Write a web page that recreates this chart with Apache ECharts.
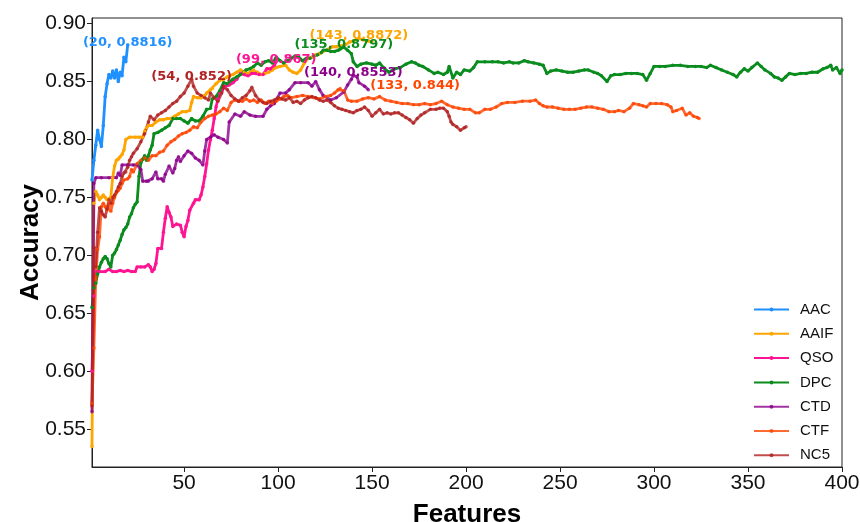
<!DOCTYPE html>
<html>
<head>
<meta charset="utf-8">
<script src="https://cdn.jsdelivr.net/npm/echarts@6/dist/echarts.min.js"></script>
<style>
  html, body { margin: 0; padding: 0; background: #fff; }
  #chart { width: 860px; height: 522px; }
</style>
</head>
<body>
<div id="chart"></div>
<script>
// 数据: [特征数, 准确率]
const aac = [[1,0.765],[2,0.782],[3,0.795],[4,0.808],[5,0.800],[6,0.794],[7,0.812],[8,0.837],[9,0.848],[10,0.856],[11,0.853],[12,0.859],[13,0.853],[14,0.860],[15,0.850],[16,0.858],[17,0.855],[18,0.871],[19,0.867],[20,0.8816]]

const aaif = [[1,0.535],[2,0.745],[3,0.755],[4,0.752],[5,0.748],[6,0.750],[7,0.752],[8,0.750],[9,0.748],[10,0.748],[11,0.750],[12,0.767],[13,0.777],[14,0.782],[15,0.783],[16,0.785],[17,0.787],[18,0.791],[19,0.800],[21,0.802],[24,0.802],[26,0.802],[28,0.802],[29,0.807],[30,0.810],[31,0.812],[33,0.812],[35,0.815],[37,0.817],[39,0.817],[41,0.818],[43,0.818],[45,0.820],[47,0.822],[49,0.824],[51,0.824],[53,0.825],[54,0.832],[55,0.837],[57,0.836],[59,0.836],[61,0.838],[62,0.840],[64,0.843],[65,0.844],[67,0.848],[69,0.851],[71,0.852],[73,0.854],[76,0.856],[78,0.858],[80,0.860],[82,0.858],[84,0.857],[86,0.859],[87,0.860],[89,0.858],[91,0.856],[93,0.857],[95,0.858],[97,0.860],[99,0.862],[101,0.863],[104,0.864],[106,0.860],[108,0.858],[110,0.857],[112,0.860],[114,0.866],[116,0.870],[118,0.871],[120,0.873],[122,0.874],[124,0.876],[127,0.878],[129,0.880],[131,0.880],[134,0.881],[136,0.882],[138,0.884],[140,0.885],[143,0.8872],[145,0.886],[148,0.885],[150,0.884]]

const qso = [[1,0.600],[2,0.665],[3,0.686],[5,0.686],[8,0.686],[10,0.688],[12,0.686],[14,0.686],[16,0.687],[18,0.686],[20,0.687],[22,0.686],[24,0.686],[25,0.690],[27,0.690],[29,0.690],[31,0.692],[32,0.690],[33,0.686],[34,0.688],[35,0.693],[36,0.706],[38,0.706],[39,0.720],[40,0.732],[41,0.742],[42,0.737],[43,0.733],[44,0.725],[46,0.727],[48,0.726],[49,0.720],[50,0.716],[51,0.725],[52,0.730],[53,0.739],[55,0.745],[56,0.748],[58,0.748],[59,0.752],[60,0.759],[61,0.768],[62,0.779],[63,0.791],[64,0.800],[65,0.808],[66,0.818],[67,0.828],[68,0.835],[69,0.840],[70,0.842],[72,0.846],[74,0.847],[76,0.849],[78,0.852],[80,0.857],[82,0.856],[84,0.855],[86,0.857],[88,0.857],[90,0.856],[92,0.856],[94,0.861],[96,0.861],[98,0.864],[99,0.867]]

const dpc = [[1,0.655],[2,0.672],[3,0.676],[4,0.684],[5,0.690],[6,0.694],[7,0.697],[8,0.699],[9,0.697],[10,0.693],[11,0.690],[12,0.700],[13,0.702],[14,0.705],[15,0.709],[16,0.713],[17,0.718],[18,0.722],[19,0.724],[20,0.727],[21,0.733],[22,0.736],[23,0.741],[24,0.744],[25,0.746],[26,0.768],[27,0.780],[28,0.783],[29,0.786],[30,0.782],[31,0.786],[32,0.791],[33,0.795],[34,0.805],[36,0.806],[38,0.808],[40,0.810],[42,0.812],[44,0.818],[46,0.818],[48,0.818],[50,0.816],[52,0.814],[54,0.818],[56,0.816],[58,0.816],[60,0.820],[62,0.826],[64,0.827],[65,0.835],[67,0.837],[69,0.842],[71,0.849],[73,0.848],[76,0.852],[78,0.854],[80,0.856],[83,0.860],[85,0.861],[87,0.863],[89,0.866],[91,0.864],[93,0.867],[95,0.868],[97,0.866],[99,0.871],[101,0.868],[103,0.866],[105,0.868],[107,0.870],[109,0.872],[111,0.871],[113,0.868],[115,0.870],[117,0.870],[119,0.872],[121,0.873],[123,0.875],[124,0.877],[126,0.877],[128,0.876],[130,0.876],[132,0.877],[133,0.878],[135,0.8797],[137,0.877],[139,0.874],[140,0.867],[142,0.863],[144,0.865],[147,0.866],[150,0.865],[152,0.864],[154,0.866],[156,0.862],[159,0.858],[162,0.861],[165,0.862],[168,0.865],[171,0.867],[173,0.866],[175,0.864],[177,0.863],[180,0.860],[183,0.857],[185,0.858],[188,0.856],[190,0.858],[191,0.863],[193,0.853],[195,0.858],[197,0.856],[199,0.860],[202,0.859],[204,0.862],[206,0.867],[210,0.867],[214,0.867],[217,0.867],[220,0.866],[223,0.867],[225,0.866],[228,0.866],[231,0.868],[233,0.867],[236,0.866],[239,0.865],[241,0.864],[243,0.857],[245,0.859],[248,0.860],[251,0.859],[254,0.858],[257,0.858],[260,0.859],[263,0.860],[265,0.860],[268,0.858],[270,0.857],[272,0.855],[275,0.850],[277,0.855],[279,0.856],[282,0.856],[285,0.857],[288,0.857],[291,0.857],[294,0.856],[296,0.851],[298,0.857],[300,0.863],[303,0.863],[306,0.863],[310,0.864],[314,0.864],[318,0.863],[322,0.863],[325,0.863],[328,0.862],[330,0.864],[333,0.862],[336,0.860],[339,0.858],[342,0.856],[344,0.854],[346,0.858],[348,0.861],[350,0.859],[352,0.862],[355,0.866],[357,0.863],[359,0.860],[362,0.857],[364,0.854],[366,0.853],[368,0.851],[370,0.854],[372,0.857],[375,0.856],[378,0.857],[381,0.857],[384,0.858],[387,0.858],[390,0.861],[392,0.862],[394,0.864],[395,0.860],[397,0.862],[399,0.857],[400,0.860]]

const ctd = [[1,0.565],[2,0.762],[3,0.767],[6,0.767],[10,0.767],[14,0.767],[15,0.771],[16,0.769],[17,0.778],[20,0.778],[23,0.778],[25,0.778],[27,0.774],[28,0.764],[30,0.764],[31,0.764],[33,0.766],[35,0.772],[36,0.766],[38,0.766],[39,0.764],[40,0.770],[42,0.777],[44,0.771],[45,0.775],[46,0.782],[47,0.785],[48,0.781],[50,0.786],[52,0.790],[54,0.788],[56,0.784],[58,0.782],[60,0.778],[61,0.790],[62,0.800],[64,0.802],[66,0.804],[68,0.802],[71,0.800],[73,0.797],[74,0.815],[77,0.822],[80,0.820],[82,0.824],[85,0.821],[88,0.820],[92,0.820],[94,0.826],[96,0.829],[98,0.831],[101,0.840],[104,0.840],[106,0.843],[109,0.849],[112,0.849],[116,0.849],[118,0.846],[120,0.850],[122,0.843],[124,0.838],[128,0.834],[131,0.836],[135,0.841],[137,0.847],[139,0.852],[140,0.8553],[142,0.854],[143,0.849],[146,0.846],[148,0.843]]

const ctf = [[1,0.572],[2,0.620],[3,0.680],[4,0.705],[5,0.716],[6,0.742],[7,0.745],[8,0.742],[9,0.739],[10,0.745],[11,0.738],[12,0.745],[13,0.750],[14,0.754],[15,0.756],[16,0.758],[17,0.762],[18,0.765],[20,0.766],[21,0.768],[22,0.774],[23,0.772],[25,0.779],[27,0.782],[29,0.784],[31,0.782],[33,0.786],[35,0.786],[37,0.789],[39,0.790],[41,0.795],[43,0.798],[45,0.800],[47,0.803],[49,0.805],[51,0.806],[53,0.808],[55,0.811],[57,0.810],[59,0.815],[61,0.818],[63,0.820],[65,0.821],[67,0.822],[69,0.824],[71,0.827],[73,0.825],[75,0.832],[77,0.834],[79,0.833],[81,0.833],[83,0.835],[85,0.833],[87,0.834],[89,0.832],[91,0.834],[93,0.831],[95,0.833],[97,0.831],[99,0.833],[101,0.835],[103,0.837],[105,0.838],[107,0.836],[110,0.837],[113,0.838],[116,0.837],[119,0.836],[122,0.835],[125,0.837],[128,0.838],[130,0.840],[132,0.843],[133,0.844],[135,0.842],[137,0.834],[139,0.833],[142,0.833],[145,0.835],[148,0.836],[151,0.835],[154,0.837],[157,0.834],[160,0.833],[163,0.832],[166,0.831],[169,0.831],[172,0.830],[175,0.830],[178,0.831],[181,0.830],[184,0.831],[187,0.833],[190,0.830],[193,0.828],[196,0.827],[199,0.826],[202,0.826],[205,0.823],[207,0.823],[210,0.826],[213,0.826],[216,0.828],[219,0.831],[222,0.832],[226,0.832],[230,0.833],[234,0.833],[237,0.834],[239,0.831],[241,0.829],[243,0.828],[246,0.828],[249,0.827],[252,0.826],[255,0.826],[258,0.826],[261,0.827],[264,0.828],[267,0.828],[270,0.827],[273,0.826],[276,0.824],[279,0.824],[281,0.825],[284,0.824],[287,0.827],[289,0.831],[292,0.830],[294,0.829],[296,0.828],[298,0.831],[301,0.831],[304,0.831],[307,0.830],[309,0.828],[310,0.824],[312,0.825],[315,0.827],[317,0.821],[319,0.823],[321,0.820],[323,0.819],[324,0.818]]

const nc5 = [[1,0.570],[2,0.707],[3,0.690],[4,0.720],[5,0.741],[6,0.738],[7,0.735],[8,0.733],[9,0.740],[10,0.748],[11,0.745],[12,0.750],[13,0.752],[14,0.755],[15,0.759],[16,0.762],[17,0.768],[18,0.771],[19,0.772],[20,0.776],[21,0.782],[22,0.785],[23,0.788],[25,0.792],[27,0.798],[29,0.805],[31,0.815],[32,0.820],[34,0.817],[36,0.821],[38,0.823],[40,0.825],[42,0.828],[44,0.831],[46,0.833],[48,0.837],[50,0.840],[52,0.846],[54,0.852],[55,0.846],[57,0.840],[59,0.838],[61,0.836],[63,0.834],[64,0.840],[66,0.836],[68,0.833],[70,0.840],[71,0.846],[73,0.843],[75,0.838],[77,0.835],[79,0.833],[81,0.836],[83,0.838],[85,0.842],[86,0.845],[88,0.838],[90,0.834],[92,0.832],[94,0.831],[96,0.833],[98,0.834],[100,0.836],[102,0.835],[104,0.834],[106,0.836],[108,0.832],[110,0.833],[112,0.831],[114,0.834],[116,0.836],[118,0.837],[120,0.836],[122,0.834],[124,0.833],[126,0.834],[128,0.832],[130,0.829],[132,0.827],[134,0.826],[136,0.825],[138,0.824],[140,0.823],[142,0.825],[144,0.826],[146,0.828],[148,0.825],[150,0.820],[152,0.823],[154,0.826],[156,0.822],[158,0.823],[160,0.822],[162,0.823],[164,0.823],[166,0.821],[168,0.819],[170,0.817],[172,0.814],[174,0.818],[176,0.821],[178,0.823],[181,0.826],[184,0.826],[186,0.827],[188,0.827],[190,0.824],[191,0.820],[192,0.815],[193,0.813],[195,0.811],[197,0.808],[199,0.810],[200,0.811]]

// 每条曲线的最高点标注
const names = ['AAC', 'AAIF', 'QSO', 'DPC', 'CTD', 'CTF', 'NC5']
const peaks = [[20, 0.8816], [143, 0.8872], [99, 0.867], [135, 0.8797], [140, 0.8553], [133, 0.844], [54, 0.852]]
const xTicks = [50, 100, 150, 200, 250, 300, 350, 400]
const yTicks = [0.55, 0.60, 0.65, 0.70, 0.75, 0.80, 0.85, 0.90]

const allData = [aac, aaif, qso, dpc, ctd, ctf, nc5]
const colors = ['#1e90ff', '#ffa500', '#ff1493', '#0a8c1e', '#8b008b', '#ff4500', '#b22222']
const alphas = [1, 1, 1, 1, 0.8, 0.8, 0.8]
const labelShift = [[0, 4], [0, 4], [0, 4], [0, 4], [0, 4], [75, 4], [0, 4]]

const chart = echarts.init(document.getElementById('chart'))

const series = names.map((name, i) => ({
  name: name,
  type: 'line',
  data: allData[i],
  symbol: 'circle',
  symbolSize: 3.5,
  showSymbol: true,
  color: colors[i],
  lineStyle: { width: 2.8, opacity: alphas[i] },
  itemStyle: { opacity: alphas[i] },
  markPoint: {
    symbol: 'circle',
    symbolSize: 0,
    data: [{ coord: peaks[i] }],
    label: {
      show: true,
      position: 'top',
      distance: 0,
      offset: labelShift[i],
      formatter: '(' + peaks[i][0] + ', ' + peaks[i][1] + ')',
      color: colors[i],
      fontWeight: 'bold',
      fontSize: 13,
      fontFamily: 'DejaVu Sans'
    }
  }
}))

const option = {
  animation: false,
  backgroundColor: '#fff',
  grid: {
    left: 92,
    top: 18,
    width: 750,
    height: 449,
    outerBoundsMode: 'none',
    containLabel: false,
    show: true,
    borderColor: '#222',
    borderWidth: 1,
    backgroundColor: 'transparent'
  },
  legend: {
    orient: 'vertical',
    left: 748,
    top: 297,
    itemWidth: 35,
    itemHeight: 5,
    itemGap: 9.3,
    data: names,
    textStyle: { color: '#111', fontSize: 15, lineHeight: 14, fontFamily: 'Liberation Sans', padding: [0, 0, 0, 6] }
  },
  xAxis: {
    type: 'value',
    min: 1,
    max: 400,
    name: 'Features',
    nameLocation: 'middle',
    nameGap: 35,
    nameMoveOverlap: false,
    nameTextStyle: { color: '#000', fontSize: 26, fontWeight: 'bold', fontFamily: 'Liberation Sans' },
    axisLine: { show: true, lineStyle: { color: '#222', width: 1 } },
    axisTick: { show: true, customValues: xTicks, length: 5, lineStyle: { color: '#222' } },
    axisLabel: { customValues: xTicks, color: '#111', fontSize: 21, fontFamily: 'Liberation Sans', margin: 6 },
    splitLine: { show: false }
  },
  yAxis: {
    type: 'value',
    min: 0.5174,
    max: 0.9048,
    name: 'Accuracy',
    nameLocation: 'middle',
    nameGap: 48,
    nameMoveOverlap: false,
    nameTextStyle: { color: '#000', fontSize: 26, fontWeight: 'bold', fontFamily: 'Liberation Sans' },
    axisLine: { show: true, lineStyle: { color: '#222', width: 1 } },
    axisTick: { show: true, customValues: yTicks, length: 5, lineStyle: { color: '#222' } },
    axisLabel: {
      customValues: yTicks,
      color: '#111',
      fontSize: 21,
      fontFamily: 'Liberation Sans',
      margin: 6,
      formatter: v => v.toFixed(2)
    },
    splitLine: { show: false }
  },
  series: series
}

chart.setOption(option)
window.addEventListener('resize', () => {
  chart.resize()
})
</script>
</body>
</html>
